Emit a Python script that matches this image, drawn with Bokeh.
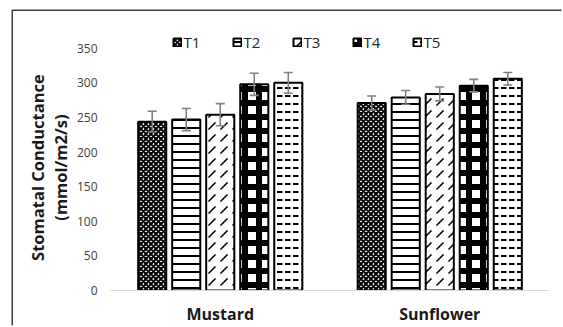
from bokeh.plotting import figure
from bokeh.models import (ColumnDataSource, FactorRange, FixedTicker, Legend,
                          LegendItem)
from bokeh.transform import dodge
from bokeh.embed import file_html
from bokeh.resources import INLINE

# ---------------- data ----------------
crops = ["Mustard", "Sunflower"]
treatments = ["T1", "T2", "T3", "T4", "T5"]
mustard = [244, 247, 254, 298, 300]
mustard_err = [15, 16, 16, 16, 15]
sunflower = [271, 279, 284, 296, 306]
sunflower_err = [10, 10, 10, 9, 9]
y_ticks = [0, 50, 100, 150, 200, 250, 300, 350]

# ---------------- fill styles ----------------
hatches = ["x", "-", ",", "+", '"']
hatch_scales = [5, 8, 12, 14, 8]
hatch_weights = [2, 2, 1.5, 6, 2]

# ---------------- figure ----------------
p = figure(x_range=FactorRange(*crops), y_range=(0, 380),
           width=550, height=316, output_backend="svg", toolbar_location=None,
           min_border_left=97, min_border_right=14, min_border_top=16,
           min_border_bottom=34)
p.styles = {"margin-left": "12.5px", "margin-top": "10.5px",
            "box-shadow": "-1.5px -1.5px 0px 0px #404040"}
p.outline_line_color = None
p.background_fill_color = "white"
p.xgrid.visible = False
p.ygrid.visible = False

values = {"Mustard": mustard, "Sunflower": sunflower}
errs = {"Mustard": mustard_err, "Sunflower": sunflower_err}

offsets = [-0.31, -0.155, 0.0, 0.155, 0.31]
bar_w = 0.128
items = []
for i, t in enumerate(treatments):
    top = [values[c][i] for c in crops]
    err = [errs[c][i] for c in crops]
    src = ColumnDataSource(dict(crop=crops, top=top,
                                lo=[a - b for a, b in zip(top, err)],
                                hi=[a + b for a, b in zip(top, err)]))
    xx = dodge("crop", offsets[i], range=p.x_range)
    r = p.vbar(x=xx, top="top", width=bar_w,
               source=src, fill_color="white", line_color="black", line_width=2,
               hatch_pattern=hatches[i], hatch_color="black",
               hatch_scale=hatch_scales[i], hatch_weight=hatch_weights[i])
    p.segment(x0=xx, y0="lo", x1=xx, y1="hi", source=src,
              line_color="#808080", line_width=1.6)
    p.scatter(x=xx, y="lo", source=src, marker="dash", size=9,
              line_color="#808080", line_width=1.6)
    p.scatter(x=xx, y="hi", source=src, marker="dash", size=9,
              line_color="#808080", line_width=1.6)
    items.append(LegendItem(label=t, renderers=[r]))

legend = Legend(items=items, orientation="horizontal", location=(62, 238),
                glyph_width=10, glyph_height=10, label_standoff=2, spacing=28,
                padding=0, margin=0, border_line_color=None,
                background_fill_alpha=0,
                label_text_font="Open Sans", label_text_font_size="15px",
                label_text_color="#262626")
p.add_layout(legend, "center")

# y axis
nb = "\u00a0" * 4
p.yaxis.ticker = FixedTicker(ticks=y_ticks)
p.yaxis.axis_line_color = None
p.yaxis.major_tick_line_color = None
p.yaxis.major_tick_out = 0
p.yaxis.minor_tick_line_color = None
p.yaxis.major_label_standoff = 13
p.yaxis.major_label_text_font = "Open Sans"
p.yaxis.major_label_text_font_size = "12px"
p.yaxis.major_label_text_color = "#404040"
p.yaxis.axis_label = "Stomatal Conductance" + nb + "\n(mmol/m2/s)" + nb
p.yaxis.axis_label_text_font = "Open Sans"
p.yaxis.axis_label_text_font_style = "bold"
p.yaxis.axis_label_text_font_size = "16.5px"
p.yaxis.axis_label_text_line_height = 1.0
p.yaxis.axis_label_text_color = "#1a1a1a"
p.yaxis.axis_label_standoff = 2

# x axis
p.xaxis.axis_line_color = "#d9d9d9"
p.xaxis.axis_line_width = 1.2
p.xaxis.major_tick_line_color = None
p.xaxis.major_tick_out = 0
p.xaxis.minor_tick_line_color = None
p.xaxis.major_label_standoff = 12
p.xaxis.major_label_text_font = "Open Sans"
p.xaxis.major_label_text_font_style = "bold"
p.xaxis.major_label_text_font_size = "16px"
p.xaxis.major_label_text_color = "#1a1a1a"
p.x_range.range_padding = 0

open("out.html", "w").write(file_html(p, INLINE))
